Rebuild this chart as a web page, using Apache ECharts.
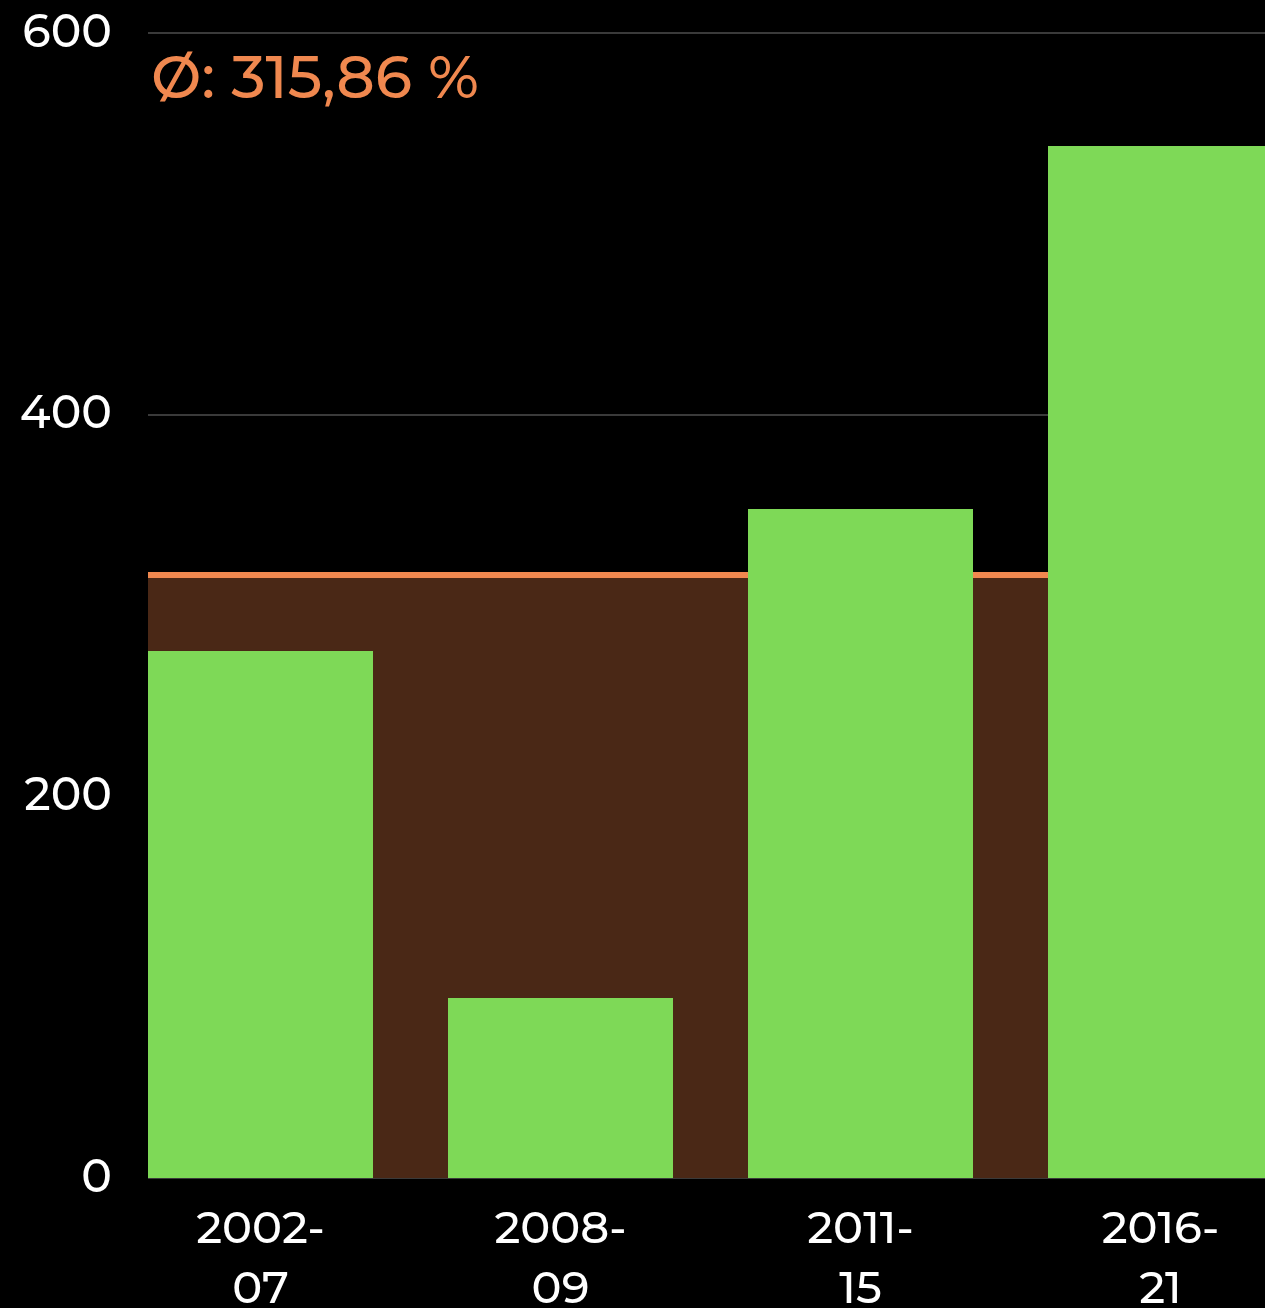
<!DOCTYPE html>
<html>
<head>
<meta charset="utf-8">
<script src="https://cdn.jsdelivr.net/npm/echarts@6/dist/echarts.min.js"></script>
<style>
  html, body { margin: 0; padding: 0; background: #000; }
  #main { width: 1265px; height: 1308px; }
</style>
</head>
<body>
<div id="main"></div>
<script>
// data
var categories = ['2002-\n07', '2008-\n09', '2011-\n15', '2016-\n21'];
var values = [276.2, 94.3, 350.6, 540.8];
var average = [315.86];
var yTicks = [0, 200, 400, 600];

var chart = echarts.init(document.getElementById('main'));
var font = 'Montserrat, "Open Sans", sans-serif';

var option = {
  backgroundColor: '#000',
  animation: false,
  title: {
    text: 'Ø: ' + average[0].toFixed(2).replace('.', ',') + ' %',
    left: 146,
    top: 45,
    textStyle: { color: '#f0884f', fontSize: 60, fontWeight: 500, fontFamily: font }
  },
  grid: [
    // axis + average grid
    { left: 148, right: 0, top: 33, bottom: 130, outerBoundsMode: 'none', containLabel: false },
    // bar grid (bands 300px wide, last bar cut off at the right edge)
    { left: 110.5, width: 1200, top: 33, bottom: 130, outerBoundsMode: 'none', containLabel: false }
  ],
  xAxis: [
    { type: 'category', gridIndex: 0, data: categories, show: false },
    {
      type: 'category', gridIndex: 1, data: categories,
      axisLine: { show: false }, axisTick: { show: false },
      axisLabel: { color: '#fff', fontSize: 45, fontWeight: 500, lineHeight: 60, margin: 22, fontFamily: font }
    }
  ],
  yAxis: [
    {
      type: 'value', gridIndex: 0, min: yTicks[0], max: yTicks[yTicks.length - 1], interval: 200,
      axisLine: { show: false }, axisTick: { show: false },
      axisLabel: { color: '#fff', fontSize: 46, fontWeight: 500, margin: 36, fontFamily: font, padding: [4, 0, 0, 0] },
      splitLine: { lineStyle: { color: '#3a3a3a', width: 2 } }
    },
    {
      type: 'value', gridIndex: 1, min: yTicks[0], max: yTicks[yTicks.length - 1], interval: 200,
      show: false, splitLine: { show: false }
    }
  ],
  series: [
    {
      type: 'line', xAxisIndex: 0, yAxisIndex: 0, z: 1,
      data: values, symbol: 'none', lineStyle: { opacity: 0 },
      silent: true,
      markArea: {
        silent: true,
        itemStyle: { color: '#4a2816' },
        data: [[{ yAxis: 0 }, { yAxis: average[0] }]]
      },
      markLine: {
        silent: true, symbol: 'none',
        label: { show: false },
        lineStyle: { color: '#f0884f', width: 6, type: 'solid' },
        data: [{ yAxis: average[0] }]
      }
    },
    {
      type: 'bar', xAxisIndex: 1, yAxisIndex: 1, z: 5,
      data: values, barWidth: 225,
      itemStyle: { color: '#7ed957' }
    }
  ]
};

chart.setOption(option);
</script>
</body>
</html>
